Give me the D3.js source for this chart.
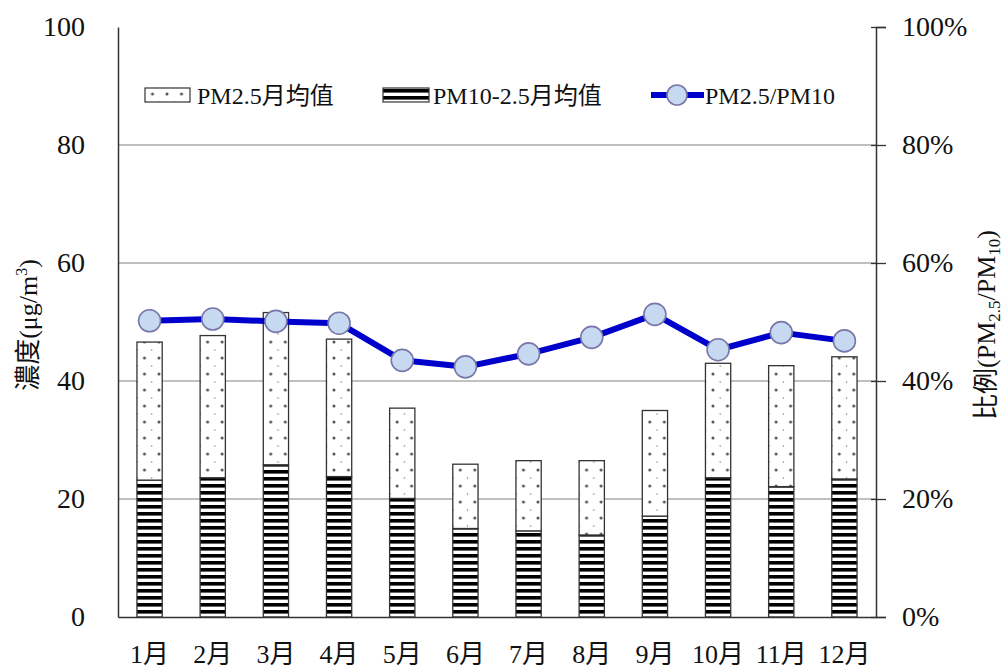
<!DOCTYPE html>
<html>
<head>
<meta charset="utf-8">
<script src="https://cdn.jsdelivr.net/npm/d3@7"></script>
<style>
  body { margin: 0; background: #fff; }
  svg { display: block; }
  text { font-family: "Liberation Serif", "Times New Roman", "Noto Sans CJK TC", serif; fill: #111; }
</style>
</head>
<body>
<svg id="chart" width="1003" height="668"></svg>
<script>
// Monthly categories
const months = ["1月", "2月", "3月", "4月", "5月", "6月", "7月", "8月", "9月", "10月", "11月", "12月"];
// PM2.5 monthly mean (µg/m3), stacked on top
const pm25 = [23.4, 24.1, 25.8, 23.3, 15.3, 10.9, 11.9, 12.6, 17.9, 19.4, 20.5, 20.7];
// PM10-2.5 (coarse fraction) monthly mean (µg/m3), bottom segment
const pmCoarse = [23.2, 23.6, 25.8, 23.8, 20.1, 15.0, 14.6, 13.9, 17.1, 23.6, 22.1, 23.4];
// PM2.5 / PM10 ratio (%)
const ratio = [50.2, 50.5, 50.1, 49.8, 43.5, 42.4, 44.6, 47.4, 51.3, 45.3, 48.2, 46.8];
// Axis ticks
const leftTicks = [0, 20, 40, 60, 80, 100];
const rightTicks = [0, 20, 40, 60, 80, 100];
const gridTicks = [20, 40, 60, 80];

const svg = d3.select("#chart");
const plot = { left: 118, right: 876, top: 27, bottom: 617 };
const fontStack = "\"Liberation Serif\", \"Times New Roman\", \"Noto Sans CJK TC\", serif";

const x = d3.scaleBand().domain(months).range([plot.left, plot.right]).paddingInner(0.6).paddingOuter(0.3);
const yL = d3.scaleLinear().domain([0, 100]).range([plot.bottom, plot.top]);
const yR = d3.scaleLinear().domain([0, 100]).range([plot.bottom, plot.top]);

// Fill patterns
const defs = svg.append("defs");
const stripes = defs.append("pattern").attr("id", "stripes")
  .attr("patternUnits", "userSpaceOnUse").attr("width", 8).attr("height", 7).attr("y", 1);
stripes.append("rect").attr("width", 8).attr("height", 7).attr("fill", "#fff");
stripes.append("rect").attr("width", 8).attr("height", 3.6).attr("fill", "#000");

const dots = defs.append("pattern").attr("id", "dots")
  .attr("patternUnits", "userSpaceOnUse").attr("width", 14.5).attr("height", 16).attr("x", 7.5).attr("y", 2);
dots.append("rect").attr("width", 14.5).attr("height", 16).attr("fill", "#fff");
[[0, 4], [14.5, 4], [0, 20], [14.5, 20]].forEach(([cx, cy]) =>
  dots.append("circle").attr("cx", cx).attr("cy", cy).attr("r", 1.5).attr("fill", "#555"));
dots.append("circle").attr("cx", 7.25).attr("cy", 12).attr("r", 0.7).attr("fill", "#777");

// Gridlines
svg.append("g").selectAll("line").data(gridTicks).join("line")
  .attr("x1", plot.left).attr("x2", plot.right)
  .attr("y1", d => yL(d)).attr("y2", d => yL(d))
  .attr("stroke", "#ababab").attr("stroke-width", 1.4);

// Stacked bars
const barG = svg.append("g").selectAll("g").data(months).join("g")
  .attr("transform", d => `translate(${x(d)},0)`);
barG.append("rect")
  .attr("x", 0).attr("width", x.bandwidth())
  .attr("y", (d, i) => yL(pmCoarse[i]))
  .attr("height", (d, i) => yL(0) - yL(pmCoarse[i]))
  .attr("fill", "url(#stripes)").attr("stroke", "#333").attr("stroke-width", 1.3);
barG.append("rect")
  .attr("x", 0).attr("width", x.bandwidth())
  .attr("y", (d, i) => yL(pmCoarse[i] + pm25[i]))
  .attr("height", (d, i) => yL(pmCoarse[i]) - yL(pmCoarse[i] + pm25[i]))
  .attr("fill", "url(#dots)").attr("stroke", "#333").attr("stroke-width", 1.3);

// Axes
const axisL = svg.append("g").attr("transform", `translate(${plot.left},0)`)
  .call(d3.axisLeft(yL).tickValues(leftTicks).tickSize(0).tickPadding(33));
axisL.select(".domain").attr("stroke", "#333").attr("stroke-width", 1.5);
axisL.selectAll("text").attr("font-size", 28);

const axisR = svg.append("g").attr("transform", `translate(${plot.right},0)`)
  .call(d3.axisRight(yR).tickValues(rightTicks).tickSize(10).tickPadding(16).tickFormat(d => d + "%"));
axisR.select(".domain").attr("stroke", "#333").attr("stroke-width", 1.5);
axisR.selectAll(".tick line").attr("x1", -5).attr("stroke", "#333").attr("stroke-width", 1.3);
axisR.selectAll("text").attr("font-size", 28);

const axisB = svg.append("g").attr("transform", `translate(0,${plot.bottom})`)
  .call(d3.axisBottom(x).tickSize(0).tickPadding(28));
axisB.select(".domain").attr("stroke", "#333").attr("stroke-width", 1.5);
axisB.selectAll("text").attr("font-size", 26);

svg.selectAll(".tick text").attr("fill", "#111").attr("font-family", fontStack);

// Ratio line with markers
const line = d3.line().x((d, i) => x(months[i]) + x.bandwidth() / 2).y(d => yR(d));
svg.append("path").datum(ratio).attr("d", line)
  .attr("fill", "none").attr("stroke", "#0000cc").attr("stroke-width", 6).attr("stroke-linejoin", "round");
svg.append("g").selectAll("circle").data(ratio).join("circle")
  .attr("cx", (d, i) => x(months[i]) + x.bandwidth() / 2).attr("cy", d => yR(d))
  .attr("r", 11).attr("fill", "#c6d9f0").attr("stroke", "#7777aa").attr("stroke-width", 1.6);

// Axis titles
const tL = svg.append("text").attr("transform", "translate(37,325) rotate(-90)")
  .attr("text-anchor", "middle").attr("font-size", 26);
tL.append("tspan").text("濃度(μg/m");
tL.append("tspan").text("3").attr("font-size", 16).attr("dy", -10);
tL.append("tspan").text(")").attr("dy", 10);

const tR = svg.append("text").attr("transform", "translate(995,325) rotate(-90)")
  .attr("text-anchor", "middle").attr("font-size", 26);
tR.append("tspan").text("比例(PM");
tR.append("tspan").text("2.5").attr("font-size", 17).attr("dy", 5);
tR.append("tspan").text("/PM").attr("dy", -5);
tR.append("tspan").text("10").attr("font-size", 17).attr("dy", 5);
tR.append("tspan").text(")").attr("dy", -5);

// Legend
const lg = svg.append("g");
lg.append("g").attr("transform", "translate(145,88)")
  .append("rect").attr("width", 45).attr("height", 14)
  .attr("fill", "url(#dots)").attr("stroke", "#333").attr("stroke-width", 1.2);
lg.append("text").attr("x", 197).attr("y", 104).attr("font-size", 24).text("PM2.5月均值");
lg.append("g").attr("transform", "translate(383,88)")
  .append("rect").attr("width", 46).attr("height", 14)
  .attr("fill", "url(#stripes)").attr("stroke", "#333").attr("stroke-width", 1.2);
lg.append("text").attr("x", 433).attr("y", 104).attr("font-size", 24).text("PM10-2.5月均值");
lg.append("line").attr("x1", 651).attr("x2", 704).attr("y1", 95).attr("y2", 95)
  .attr("stroke", "#0000cc").attr("stroke-width", 6);
lg.append("circle").attr("cx", 677).attr("cy", 95).attr("r", 10)
  .attr("fill", "#c6d9f0").attr("stroke", "#7777aa").attr("stroke-width", 1.6);
lg.append("text").attr("x", 705).attr("y", 104).attr("font-size", 24).text("PM2.5/PM10");
</script>
</body>
</html>
